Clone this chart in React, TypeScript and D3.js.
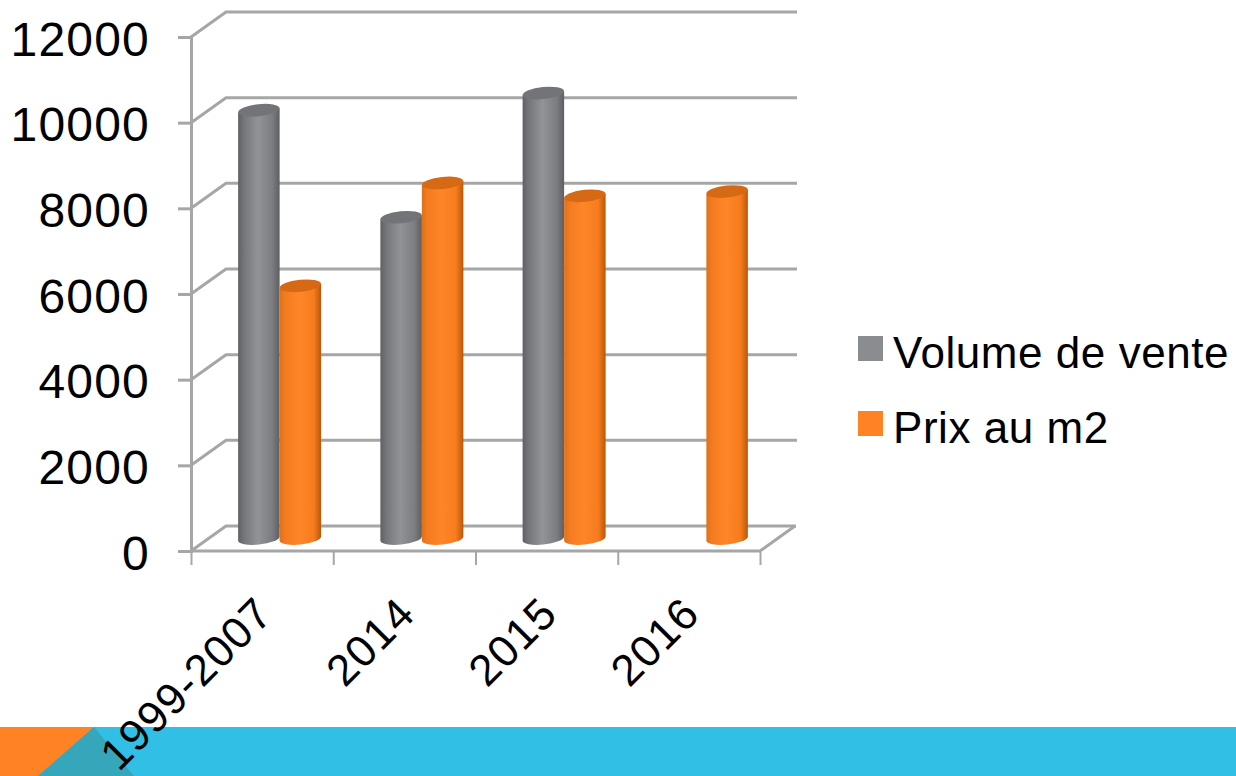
import { useRef, useEffect } from "react";
import * as d3 from "d3";

const CATEGORIES = ["1999-2007", "2014", "2015", "2016"];
const SERIES_NAMES = ["Volume de vente", "Prix au m2"];
const VOLUME_VALUES = [10000, 7500, 10400, null];
const PRIX_VALUES = [5900, 8300, 8000, 8100];
const Y_TICKS = [0, 2000, 4000, 6000, 8000, 10000, 12000];

const FONT = "'Liberation Sans', Arial, sans-serif";
const GRID = "#a6a6a6";
const DEPTH_X = 35;
const DEPTH_Y = 25;

// cylinder shading, left to right
const STOP_OFFSETS = [0, 0.14, 0.48, 0.82, 1];
const SHADES = [
  { id: "greyBody", stops: ["#5f6064", "#75767a", "#919397", "#7c7d81", "#5e5f63"], top: "#737478", swatch: "#8b8c90" },
  { id: "orangeBody", stops: ["#e0701a", "#f47c20", "#ff8628", "#f67c1e", "#b9580c"], top: "#d66a14", swatch: "#ff8324" },
];

export default function App() {
  const svgRef = useRef<SVGSVGElement>(null);

  useEffect(() => {
    if (!svgRef.current) return;
    const svg = d3.select(svgRef.current);
    svg.selectAll("*").remove();

    const x = d3.scaleBand().domain(CATEGORIES).range([191, 760]);
    const xEdges = d3.scaleLinear().domain([0, CATEGORIES.length]).range([191, 760]);
    const y = d3.scaleLinear().domain([0, 12000]).range([551, 37]);

    const defs = svg.append("defs");
    for (const s of SHADES) {
      const grad = defs.append("linearGradient").attr("id", s.id);
      s.stops.forEach((c, i) => {
        grad.append("stop").attr("offset", STOP_OFFSETS[i]).attr("stop-color", c);
      });
    }

    // Slide footer
    svg.append("rect").attr("x", 0).attr("y", 727).attr("width", 1236).attr("height", 49).attr("fill", "#31bfe6");
    svg.append("path").attr("d", "M0,727H94L38,776H0Z").attr("fill", "#ff8324");
    svg.append("path").attr("d", "M94,727L38,776H134Z").attr("fill", "#36a7bb");

    // Walls and floor
    const walls = svg.append("g").attr("fill", "none").attr("stroke", GRID).attr("stroke-width", 3);
    walls
      .selectAll("path")
      .data(Y_TICKS)
      .join("path")
      .attr("d", (d) => {
        const py = y(d);
        const right = d === 0 ? 760 + DEPTH_X + 1 : 797;
        return `M191,${py}L${191 + DEPTH_X},${py - DEPTH_Y}H${right}`;
      });
    walls.append("path").attr("d", `M191,${y(0)}H760L${760 + DEPTH_X},${y(0) - DEPTH_Y}`);

    // Y axis
    const yAxis = svg
      .append("g")
      .attr("transform", "translate(191,0)")
      .call(d3.axisLeft(y).tickValues(Y_TICKS).tickSize(13).tickPadding(28).tickFormat(d3.format("d")));
    yAxis.selectAll(".domain, .tick line").attr("stroke", GRID).attr("stroke-width", 3);
    yAxis
      .selectAll("text")
      .attr("fill", "#000")
      .attr("dy", "0.38em")
      .style("font-family", FONT)
      .style("font-size", "48px")
      .style("letter-spacing", "1.2px");

    // X axis ticks sit between the categories
    const xTicks = svg
      .append("g")
      .attr("transform", `translate(0,${y(0)})`)
      .call(d3.axisBottom(xEdges).ticks(CATEGORIES.length).tickSize(14).tickFormat(() => ""));
    xTicks.select(".domain").remove();
    xTicks.selectAll(".tick line").attr("stroke", GRID).attr("stroke-width", 2);

    // Cylinders
    const barW = 41.5;
    const baseY = y(0) - DEPTH_Y / 2;
    const rx = barW / 2;
    const ry = 6;
    const tilt = -6;
    [VOLUME_VALUES, PRIX_VALUES].forEach((values, si) => {
      const shade = SHADES[si];
      values.forEach((v, i) => {
        if (v == null) return;
        const cx = x(CATEGORIES[i])! + x.bandwidth() / 2 + DEPTH_X / 2 + (si === 0 ? -barW / 2 : barW / 2);
        const bottom = baseY;
        const top = baseY - (y(0) - y(v));
        const g = svg.append("g");
        g.append("path")
          .attr(
            "d",
            `M${cx - rx},${top + 2}V${bottom + 2}A${rx},${ry} ${tilt} 0 0 ${cx + rx},${bottom - 2}V${top - 2}Z`
          )
          .attr("fill", `url(#${shade.id})`);
        g.append("ellipse")
          .attr("rx", rx)
          .attr("ry", ry)
          .attr("transform", `translate(${cx},${top}) rotate(${tilt})`)
          .attr("fill", shade.top);
      });
    });

    // X labels, rotated
    const xLabels = svg
      .append("g")
      .attr("transform", `translate(0,${y(0)})`)
      .call(d3.axisBottom(x).tickSize(0));
    xLabels.select(".domain").remove();
    xLabels
      .selectAll("text")
      .attr("fill", "#000")
      .style("font-family", FONT)
      .style("font-size", "44px")
      .style("letter-spacing", "1.2px")
      .attr("text-anchor", "end")
      .attr("dy", 0)
      .attr("y", 0)
      .attr("transform", "translate(13,65) rotate(-45)");

    // Legend
    const legend = svg
      .append("g")
      .selectAll("g")
      .data(SERIES_NAMES)
      .join("g")
      .attr("transform", (_, i) => `translate(858,${336 + i * 75})`);
    legend
      .append("rect")
      .attr("width", 25)
      .attr("height", 25)
      .attr("fill", (_, i) => SHADES[i].swatch);
    legend
      .append("text")
      .attr("x", 35)
      .attr("y", 32)
      .attr("fill", "#000")
      .style("font-family", FONT)
      .style("font-size", "44px")
      .style("letter-spacing", "0.55px")
      .text((d) => d);
  }, []);

  return (
    <svg
      ref={svgRef}
      width={1236}
      height={776}
      style={{ position: "absolute", left: 0, top: 0, background: "#fff" }}
    />
  );
}
